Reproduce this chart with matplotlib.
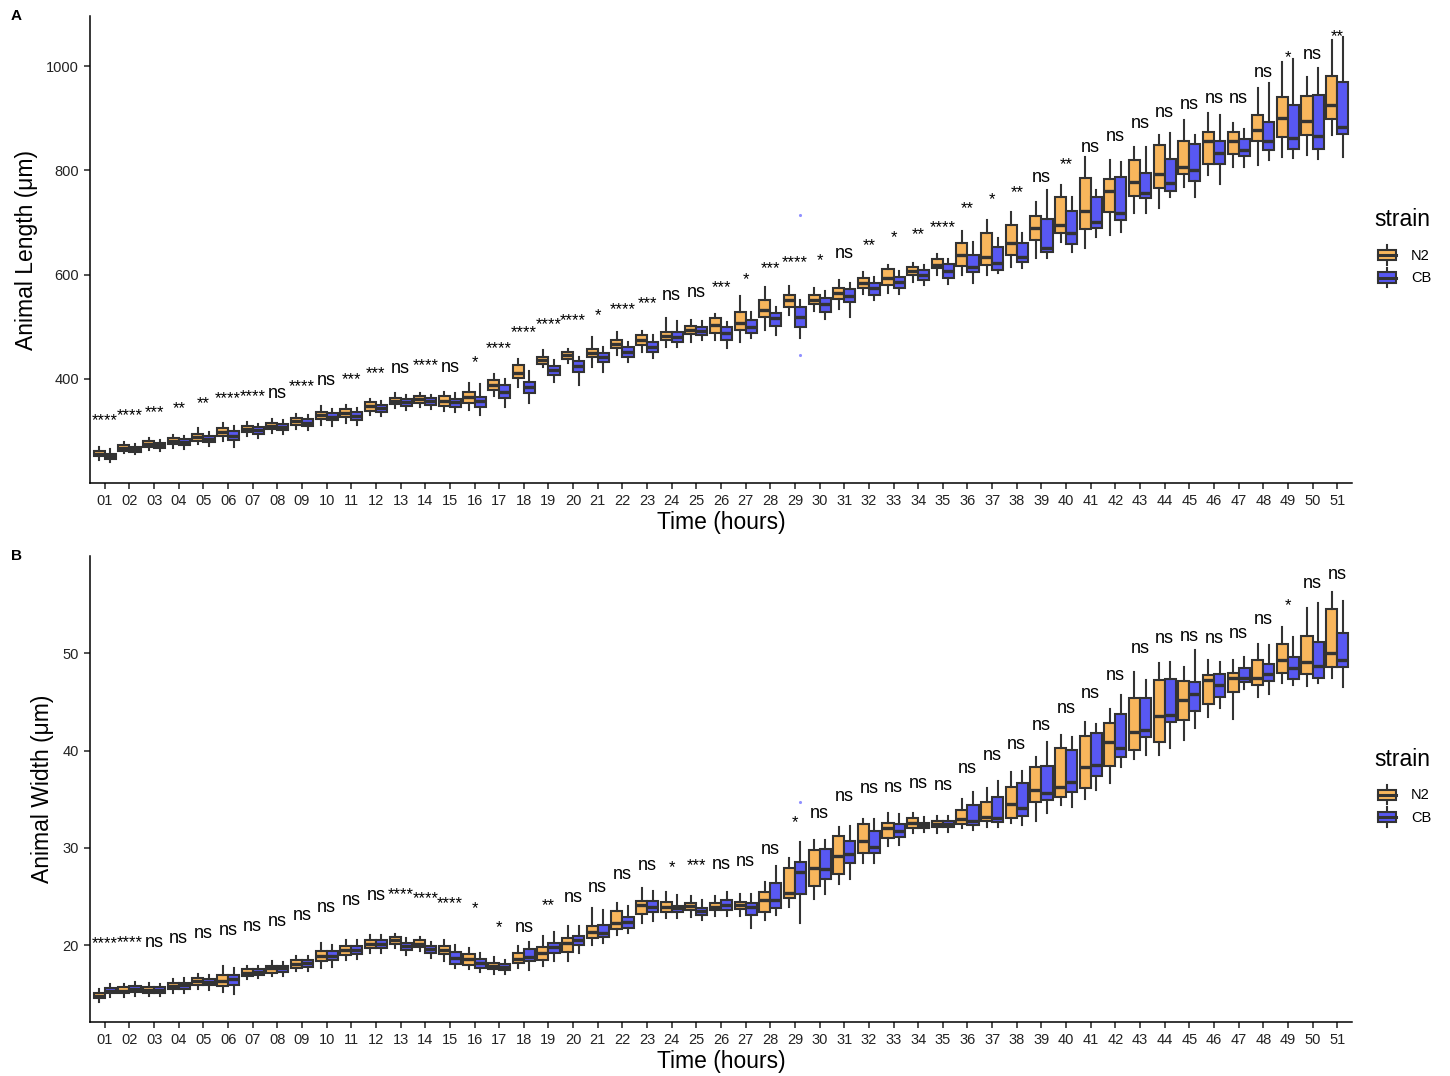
import matplotlib
matplotlib.use("Agg")
import matplotlib.pyplot as plt
from matplotlib.patches import Rectangle
from matplotlib.lines import Line2D
from matplotlib.legend_handler import HandlerBase

plt.rcParams['font.family'] = ['Liberation Sans', 'DejaVu Sans']

hours = ["%02d" % h for h in range(1, 52)]
strains = ["N2", "CB"]

# animal length (um): box stats per hour
len_n2_q1 = [251,262,269,274,281,290,297,303,311,322, 326,339,351,353,348,354,379,402,429,438,
             442,459,465,475,486,488,494,519,538,544, 553,574,580,599,612,617,618,638,666,680,
             688,720,751,766,793,812,831,856,864,868, 898]
len_n2_med = [256,267,275,280,288,298,304,310,319,330, 334,348,358,361,357,365,388,412,436,446,
              450,467,475,482,494,503,507,532,551,551, 565,584,594,607,619,638,634,661,689,695,
              722,760,778,793,806,856,856,877,900,895, 925]
len_n2_q3 = [261,272,280,286,294,305,310,316,325,337, 342,355,364,366,366,375,398,427,442,452,
             457,475,484,490,502,517,528,551,561,561, 574,594,611,615,630,661,680,695,712,749,
             785,784,820,849,856,874,874,906,941,942, 981]
len_n2_lo = [245,257,263,268,275,280,290,296,303,312, 315,330,344,346,338,340,366,385,423,431,
             423,445,452,461,471,475,471,494,523,530, 533,563,565,585,600,599,599,615,632,663,
             651,676,718,728,768,791,806,810,826,829, 868]
len_n2_hi = [270,278,286,292,305,315,318,323,332,348, 350,362,372,372,375,392,410,438,456,457,
             480,490,492,517,513,525,559,576,578,574, 590,605,618,623,640,684,705,720,739,772,
             826,820,845,868,896,910,891,958,1008,979, 1050]

len_cb_q1 = [247,260,267,272,278,283,294,301,310,320, 321,336,348,350,346,345,364,373,408,413,
             433,442,452,471,484,475,488,502,500,528, 548,561,574,590,594,605,609,624,643,659,
             690,705,747,760,780,812,827,839,841,841, 870]
len_cb_med = [251,265,272,278,284,290,301,308,316,327, 329,343,355,357,355,358,375,385,416,424,
              442,452,461,481,492,488,500,517,519,544, 559,574,586,599,607,615,622,634,651,680,
              701,718,757,776,801,833,839,856,862,866, 883]
len_cb_q3 = [256,270,277,284,290,300,307,314,322,334, 336,350,362,363,362,365,388,394,425,434,
             450,461,471,490,500,500,513,526,538,555, 572,584,596,609,620,638,653,661,707,722,
             749,787,795,822,850,856,860,893,925,944, 969]
len_cb_lo = [240,255,261,266,271,270,287,294,302,310, 312,328,340,342,336,330,346,354,394,389,
             413,432,440,461,475,459,479,484,479,515, 519,552,563,580,582,584,603,613,632,643,
             672,682,718,749,749,774,806,820,824,822, 826]
len_cb_hi = [266,275,283,290,298,310,314,320,330,342, 344,358,368,368,372,390,400,415,436,442,
             461,471,484,510,510,509,528,538,551,568, 584,595,606,618,630,663,670,680,762,749,
             762,816,845,872,868,906,880,967,1013,996, 1056]

# animal width (um): box stats per hour
wid_n2_q1 = [14.6,15.1,15.1,15.5,15.9,15.8,16.8,17.1,17.7,18.4, 19.0,19.7,20.1,19.8,19.1,18.0,17.5,18.2,18.5,19.3,
             20.7,21.7,23.2,23.4,23.6,23.6,23.7,23.4,24.8,26.1, 27.3,29.5,31.0,32.0,32.1,32.5,32.8,33.1,34.7,35.2,
             36.1,38.4,40.1,40.9,43.1,44.8,46.0,46.7,48.0,47.9, 48.6]
wid_n2_med = [14.8,15.3,15.4,15.8,16.3,16.3,17.1,17.6,18.1,18.9, 19.5,20.1,20.5,20.1,19.5,18.6,17.9,18.6,19.2,20.2,
              21.3,22.3,24.1,23.9,24.0,23.9,24.1,24.6,25.4,27.9, 29.2,30.7,32.0,32.6,32.5,33.0,33.2,34.5,35.9,36.3,
              38.3,40.9,41.9,43.6,45.2,47.3,47.5,47.5,49.3,49.1, 50.0]
wid_n2_q3 = [15.1,15.7,15.7,16.1,16.6,16.9,17.5,17.9,18.5,19.4, 19.9,20.5,20.8,20.5,19.9,19.1,18.2,19.2,19.8,20.7,
             22.0,23.5,24.5,24.4,24.3,24.3,24.4,25.5,27.9,29.8, 31.2,32.4,32.6,33.1,32.8,33.9,34.7,36.3,38.3,40.3,
             41.5,42.8,45.4,47.3,47.1,47.8,48.0,49.3,51.0,51.8, 54.6]
wid_n2_lo = [14.2,14.7,14.8,15.1,15.5,15.2,16.5,16.8,17.3,17.6, 18.5,19.2,19.7,19.4,18.4,17.5,17.0,17.6,17.9,18.4,
             20.0,21.0,22.3,22.8,22.9,23.0,23.0,22.6,23.9,24.7, 26.3,28.4,30.2,31.5,31.5,32.0,32.1,32.6,32.8,34.4,
             35.0,36.7,39.1,39.5,41.1,43.4,43.2,45.5,46.9,46.6, 47.5]
wid_n2_hi = [15.5,16.0,16.1,16.5,17.0,17.9,17.9,18.4,18.9,20.2, 20.5,21.0,21.1,20.8,20.5,19.7,18.8,19.9,20.9,22.0,
             23.8,24.3,25.9,25.5,25.0,25.0,25.3,26.5,29.0,30.8, 32.1,33.0,33.6,33.6,33.3,35.0,36.2,37.8,39.3,41.6,
             42.9,44.3,48.1,49.0,48.6,49.3,49.3,51.0,52.7,54.7, 56.3]

wid_cb_q1 = [15.1,15.2,15.1,15.5,15.9,15.9,16.9,17.2,17.8,18.5, 19.1,19.7,19.5,19.2,18.1,17.7,17.4,18.4,19.2,20.0,
             20.8,21.8,23.4,23.4,23.1,23.6,23.1,23.8,25.3,26.8, 28.4,29.5,31.1,32.0,32.1,32.3,32.7,33.3,34.9,35.7,
             37.4,39.3,41.4,42.9,44.1,45.5,47.0,47.1,47.4,47.5, 48.6]
wid_cb_med = [15.3,15.5,15.4,15.9,16.2,16.5,17.2,17.6,18.2,18.9, 19.5,20.1,19.9,19.6,18.7,18.2,17.8,18.8,19.8,20.5,
              21.2,22.4,23.9,23.8,23.5,24.1,23.9,24.6,27.5,27.8, 29.4,30.1,31.7,32.3,32.5,32.8,33.1,34.1,35.6,36.8,
              38.5,40.3,42.1,43.7,45.8,46.7,47.5,47.9,48.5,48.7, 49.3]
wid_cb_q3 = [15.6,15.8,15.7,16.1,16.5,16.9,17.5,17.9,18.5,19.4, 19.9,20.5,20.2,19.9,19.3,18.6,18.1,19.6,20.2,20.9,
             22.1,22.9,24.5,24.0,23.8,24.6,24.3,26.4,28.5,29.9, 30.7,31.7,32.5,32.6,32.8,34.4,35.2,36.7,38.4,40.1,
             41.8,43.8,45.4,47.4,47.0,47.9,48.5,48.9,49.6,51.2, 52.1]
wid_cb_lo = [14.7,14.8,14.8,15.1,15.4,15.0,16.6,16.8,17.3,17.8, 18.6,19.2,19.0,18.7,17.6,17.2,17.0,17.4,18.4,19.2,
             20.2,21.2,22.5,22.8,22.6,23.0,21.8,23.1,22.3,25.3, 26.8,28.4,30.3,31.6,31.6,31.8,32.1,32.3,33.6,34.2,
             35.9,38.3,39.5,40.3,42.3,44.4,46.3,45.8,46.7,46.9, 46.5]
wid_cb_hi = [16.0,16.2,16.0,16.6,16.9,17.6,17.9,18.3,18.9,20.0, 20.5,21.0,20.7,20.3,20.0,19.2,18.5,20.3,21.4,22.0,
             23.6,24.0,25.6,25.2,24.6,25.5,25.3,28.1,30.6,30.8, 32.2,33.0,33.5,33.2,33.3,35.7,36.9,37.9,40.9,41.4,
             42.7,45.7,47.2,49.1,50.3,49.1,49.6,50.8,51.7,55.2, 55.4]

# points outside the whiskers (hour, value)
len_cb_out_hour = [29, 29]
len_cb_out_val = [714, 446]
wid_cb_out_hour = [29]
wid_cb_out_val = [34.7]

# significance of N2 vs CB per hour, and label height
sig_len = ["****","****","***","**","**","****","****","ns","****","ns",
           "***","***","ns","****","ns","*","****","****","****","****",
           "*","****","***","ns","ns","***","*","***","****","*",
           "ns","**","*","**","****","**","*","**","ns","**",
           "ns","ns","ns","ns","ns","ns","ns","ns","*","ns", "**"]
sig_len_y = [312,321,327,335,344,354,358,364,377,388, 390,402,412,417,413,423,450,479,496,502,
             513,525,536,551,557,567,582,603,615,619, 632,647,663,668,682,718,735,749,778,803,
             835,857,881,902,918,930,930,979,1008,1013, 1047]

sig_wid = ["****","****","ns","ns","ns","ns","ns","ns","ns","ns",
           "ns","ns","****","****","****","*","*","ns","**","ns",
           "ns","ns","ns","*","***","ns","ns","ns","*","ns",
           "ns","ns","ns","ns","ns","ns","ns","ns","ns","ns",
           "ns","ns","ns","ns","ns","ns","ns","ns","*","ns", "ns"]
sig_wid_y = [19.7,19.8,19.8,20.2,20.7,21.0,21.5,22.0,22.6,23.4, 24.1,24.6,24.7,24.3,23.8,23.3,21.3,21.4,23.6,24.4,
             25.5,26.8,27.7,27.5,27.7,27.8,28.1,29.4,32.1,33.1, 34.8,35.6,35.7,36.1,35.9,37.7,39.0,40.2,42.1,43.9,
             45.4,47.2,50.0,51.1,51.3,51.1,51.6,53.0,54.4,56.7, 57.6]

FILL = {"N2": "#F8B65C", "CB": "#5858F2"}
PT = {"N2": "#FFA500", "CB": "#2222FF"}
EDGE = "#333333"
BOXW = 0.45


def stats_list(q1, med, q3, lo, hi):
    return [dict(q1=a, med=b, q3=c, whislo=d, whishi=e, fliers=[])
            for a, b, c, d, e in zip(q1, med, q3, lo, hi)]


class BoxKey(HandlerBase):
    # little boxplot glyph for the legend keys
    def create_artists(self, legend, orig_handle, xdescent, ydescent,
                       width, height, fontsize, trans):
        x0, y0 = -xdescent, -ydescent
        cx = x0 + width / 2
        fc = orig_handle.get_facecolor()
        r = Rectangle((x0, y0 + height * 0.2), width, height * 0.6,
                      facecolor=fc, edgecolor=EDGE, lw=1.5, transform=trans)
        med = Line2D([x0, x0 + width], [y0 + height * 0.5] * 2,
                     color=EDGE, lw=2.2, transform=trans)
        w1 = Line2D([cx, cx], [y0 - height * 0.08, y0 + height * 0.2],
                    color=EDGE, lw=1.5, transform=trans)
        w2 = Line2D([cx, cx], [y0 + height * 0.8, y0 + height * 1.08],
                    color=EDGE, lw=1.5, transform=trans)
        return [w1, w2, r, med]


def draw_panel(ax, data, sig, sig_y, outs, ylim, yticks, ylabel, tag):
    pos = list(range(1, len(hours) + 1))
    for k, s in enumerate(strains):
        off = -BOXW / 2 if k == 0 else BOXW / 2
        ax.bxp(stats_list(*data[s]), positions=[p + off for p in pos],
               widths=BOXW, patch_artist=True, showfliers=False, showcaps=False,
               boxprops=dict(facecolor=FILL[s], edgecolor=EDGE, linewidth=1.5),
               medianprops=dict(color=EDGE, linewidth=2.4),
               whiskerprops=dict(color=EDGE, linewidth=1.5),
               manage_ticks=False, zorder=2)
    for s, (hx, hv) in outs.items():
        ax.scatter([h + BOXW / 2 for h in hx], hv, s=5, color=PT[s], alpha=0.5,
                   linewidths=0, zorder=3)
    for p, t, y in zip(pos, sig, sig_y):
        fs = 13 if t == "ns" else 12
        ax.text(p, y, t, ha="center", va="baseline", fontsize=fs, color="black")

    ax.set_xlim(0.4, len(hours) + 0.6)
    ax.set_ylim(*ylim)
    ax.set_xticks(pos)
    ax.set_xticklabels(hours)
    ax.set_yticks(yticks)
    ax.tick_params(labelsize=10.5, length=4.5, width=1.1, colors="#222222",
                   labelcolor="#222222")
    for sp in ("top", "right"):
        ax.spines[sp].set_visible(False)
    for sp in ("left", "bottom"):
        ax.spines[sp].set_linewidth(1.1)
    ax.set_xlabel("Time (hours)", fontsize=16.5, labelpad=2)
    ax.set_ylabel(ylabel, fontsize=16.5, labelpad=6)

    handles = [Rectangle((0, 0), 1, 1, facecolor=FILL[s]) for s in strains]
    ax.legend(handles, strains, loc="center left",
              bbox_to_anchor=(1.0206, 0.464), frameon=False, fontsize=10.5,
              handler_map={Rectangle: BoxKey()}, borderpad=0,
              handlelength=1.25, handleheight=1.4, handletextpad=1.0,
              labelspacing=0.38, borderaxespad=0)
    ax.text(1.0174, 0.564, "strain", transform=ax.transAxes, fontsize=16.5,
            ha="left", va="center")
    ax.text(-0.063, 1.0, tag, transform=ax.transAxes, fontsize=11,
            fontweight="bold", ha="left", va="center")


fig = plt.figure(figsize=(14.5, 10.76), dpi=100)
axA = fig.add_axes([0.0621, 0.5511, 0.8703, 0.434])
axB = fig.add_axes([0.0621, 0.0502, 0.8703, 0.4331])

draw_panel(axA,
           {"N2": (len_n2_q1, len_n2_med, len_n2_q3, len_n2_lo, len_n2_hi),
            "CB": (len_cb_q1, len_cb_med, len_cb_q3, len_cb_lo, len_cb_hi)},
           sig_len, sig_len_y, {"CB": (len_cb_out_hour, len_cb_out_val)},
           (200, 1096), [400, 600, 800, 1000], "Animal Length (\u03bcm)", "A")
draw_panel(axB,
           {"N2": (wid_n2_q1, wid_n2_med, wid_n2_q3, wid_n2_lo, wid_n2_hi),
            "CB": (wid_cb_q1, wid_cb_med, wid_cb_q3, wid_cb_lo, wid_cb_hi)},
           sig_wid, sig_wid_y, {"CB": (wid_cb_out_hour, wid_cb_out_val)},
           (12.1, 60.0), [20, 30, 40, 50], "Animal Width (\u03bcm)", "B")

fig.savefig("out.png", dpi=100)
